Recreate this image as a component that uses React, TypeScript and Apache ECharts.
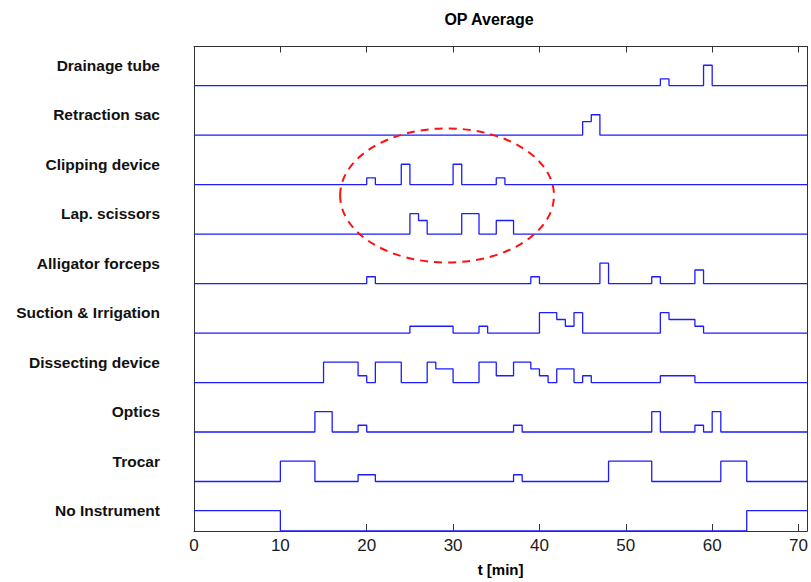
import React, { useEffect, useRef } from "react";
import * as echarts from "echarts";

// Instrument rows, listed bottom to top
const rows = [
  "No Instrument",
  "Trocar",
  "Optics",
  "Dissecting device",
  "Suction & Irrigation",
  "Alligator forceps",
  "Lap. scissors",
  "Clipping device",
  "Retraction sac",
  "Drainage tube",
];

// Usage intervals per instrument: [start min, end min, usage level 1..3]
const noInstrument = [
  [0, 10, 3],
  [64, 71, 3],
];
const trocar = [
  [10, 14, 3],
  [19, 21, 1],
  [37, 38, 1],
  [48, 53, 3],
  [61, 64, 3],
];
const optics = [
  [14, 16, 3],
  [19, 20, 1],
  [37, 38, 1],
  [53, 54, 3],
  [58, 59, 1],
  [60, 61, 3],
];
const dissectingDevice = [
  [15, 19, 3],
  [19, 20, 1],
  [21, 24, 3],
  [27, 28, 3],
  [28, 30, 2],
  [33, 35, 3],
  [35, 37, 1],
  [37, 39, 3],
  [39, 40, 2],
  [40, 41, 1],
  [42, 44, 2],
  [45, 46, 1],
  [54, 58, 1],
];
const suctionIrrigation = [
  [25, 30, 1],
  [33, 34, 1],
  [40, 42, 3],
  [42, 43, 2],
  [43, 44, 1],
  [44, 45, 3],
  [54, 55, 3],
  [55, 58, 2],
  [58, 59, 1],
];
const alligatorForceps = [
  [20, 21, 1],
  [39, 40, 1],
  [47, 48, 3],
  [53, 54, 1],
  [58, 59, 2],
];
const lapScissors = [
  [25, 26, 3],
  [26, 27, 2],
  [31, 33, 3],
  [35, 37, 2],
];
const clippingDevice = [
  [20, 21, 1],
  [24, 25, 3],
  [30, 31, 3],
  [35, 36, 1],
];
const retractionSac = [
  [45, 46, 2],
  [46, 47, 3],
];
const drainageTube = [
  [54, 55, 1],
  [59, 60, 3],
];

const usage = [
  noInstrument,
  trocar,
  optics,
  dissectingDevice,
  suctionIrrigation,
  alligatorForceps,
  lapScissors,
  clippingDevice,
  retractionSac,
  drainageTube,
];

// Time axis ticks
const xTicks = [0, 10, 20, 30, 40, 50, 60, 70];

const T_MAX = 71;
const Y_MAX = 9.79;
const LEVEL_STEP = 0.137; // row height of one usage level
const LABEL_OFFSET = 0.414; // row labels sit near the full-usage level

// Highlighted phase (dashed ellipse), in axis units
const highlight = { t: 29.3, y: 6.78, rt: 12.38, ry: 1.355 };

function buildSteps(base: number, segs: number[][]): number[][] {
  const pts: number[][] = [];
  let cursor = 0;
  if (!segs.length || segs[0][0] > 0) pts.push([0, base]);
  segs.forEach((s, i) => {
    const [a, b, lvl] = s;
    pts.push([a, base + lvl * LEVEL_STEP]);
    const next = segs[i + 1];
    if (b >= T_MAX) {
      pts.push([T_MAX, base + lvl * LEVEL_STEP]);
    } else if (!next || next[0] !== b) {
      pts.push([b, base]);
    }
    cursor = b;
  });
  if (cursor < T_MAX) pts.push([T_MAX, base]);
  return pts;
}

export default function App() {
  const ref = useRef<HTMLDivElement>(null);

  useEffect(() => {
    if (!ref.current) return;
    const chart = echarts.init(ref.current, null, { renderer: "svg" });
    const font = "'Liberation Sans', Arial, Helvetica, sans-serif";
    const axisColor = "#333333";
    const lineBlue = "#1c1cff";

    const series = usage.map((segs, k) => ({
      type: "line",
      name: rows[k],
      step: "end",
      showSymbol: false,
      symbol: "none",
      clip: false,
      data: buildSteps(k, segs),
      lineStyle: { color: lineBlue, width: 1.3 },
      itemStyle: { color: lineBlue },
      z: 3,
    }));

    chart.setOption({
      animation: false,
      backgroundColor: "#ffffff",
      title: {
        text: "OP Average",
        left: 489,
        top: 11,
        textAlign: "center",
        padding: 0,
        textStyle: { fontFamily: font, fontSize: 16, fontWeight: "bold", color: "#000" },
      },
      grid: { left: 194, right: 3.3, top: 46.5, bottom: 51, containLabel: false },
      xAxis: [
        {
          type: "value",
          min: 0,
          max: T_MAX,
          interval: 10,
          position: "bottom",
          name: "t [min]",
          nameLocation: "middle",
          nameGap: 31,
          nameTextStyle: { fontFamily: font, fontSize: 15, fontWeight: "bold", color: "#000" },
          axisLine: { show: true, onZero: false, lineStyle: { color: axisColor, width: 1 } },
          axisTick: { show: true, inside: true, length: 7, lineStyle: { color: axisColor } },
          axisLabel: {
            show: true,
            margin: 6,
            fontFamily: font,
            fontSize: 17,
            color: "#1a1a1a",
            customValues: xTicks,
            formatter: (v: number) => String(v),
          },
          splitLine: { show: false },
        },
        {
          type: "value",
          min: 0,
          max: T_MAX,
          interval: 10,
          position: "top",
          axisLine: { show: true, onZero: false, lineStyle: { color: axisColor, width: 1 } },
          axisTick: { show: true, inside: true, length: 6, lineStyle: { color: axisColor } },
          axisLabel: { show: false },
          splitLine: { show: false },
        },
      ],
      yAxis: [
        {
          type: "value",
          min: 0,
          max: Y_MAX,
          position: "left",
          axisLine: { show: true, onZero: false, lineStyle: { color: axisColor, width: 1 } },
          axisTick: { show: false },
          splitLine: { show: false },
          axisLabel: {
            show: true,
            margin: 34,
            fontFamily: font,
            fontSize: 15.5,
            fontWeight: "bold",
            color: "#111",
            customValues: rows.map((_, i) => i + LABEL_OFFSET),
            formatter: (v: number) => rows[Math.round(v - LABEL_OFFSET)] ?? "",
          },
        },
        {
          type: "value",
          min: 0,
          max: Y_MAX,
          position: "right",
          axisLine: { show: true, onZero: false, lineStyle: { color: axisColor, width: 1 } },
          axisTick: { show: false },
          axisLabel: { show: false },
          splitLine: { show: false },
        },
      ],
      series,
    });

    // Dashed ellipse around the dissection phase, placed through the axes
    const finder = { xAxisIndex: 0, yAxisIndex: 0 };
    const c = chart.convertToPixel(finder, [highlight.t, highlight.y]) as number[];
    const e = chart.convertToPixel(finder, [
      highlight.t + highlight.rt,
      highlight.y + highlight.ry,
    ]) as number[];
    chart.setOption({
      graphic: [
        {
          type: "ellipse",
          shape: { cx: c[0], cy: c[1], rx: Math.abs(e[0] - c[0]), ry: Math.abs(e[1] - c[1]) },
          style: { fill: "none", stroke: "#ff1010", lineWidth: 2, lineDash: [8, 6] },
          z: 10,
        },
      ],
    });

    return () => chart.dispose();
  }, []);

  return (
    <div
      ref={ref}
      style={{ position: "absolute", left: 0, top: 0, width: 811, height: 582 }}
    />
  );
}
